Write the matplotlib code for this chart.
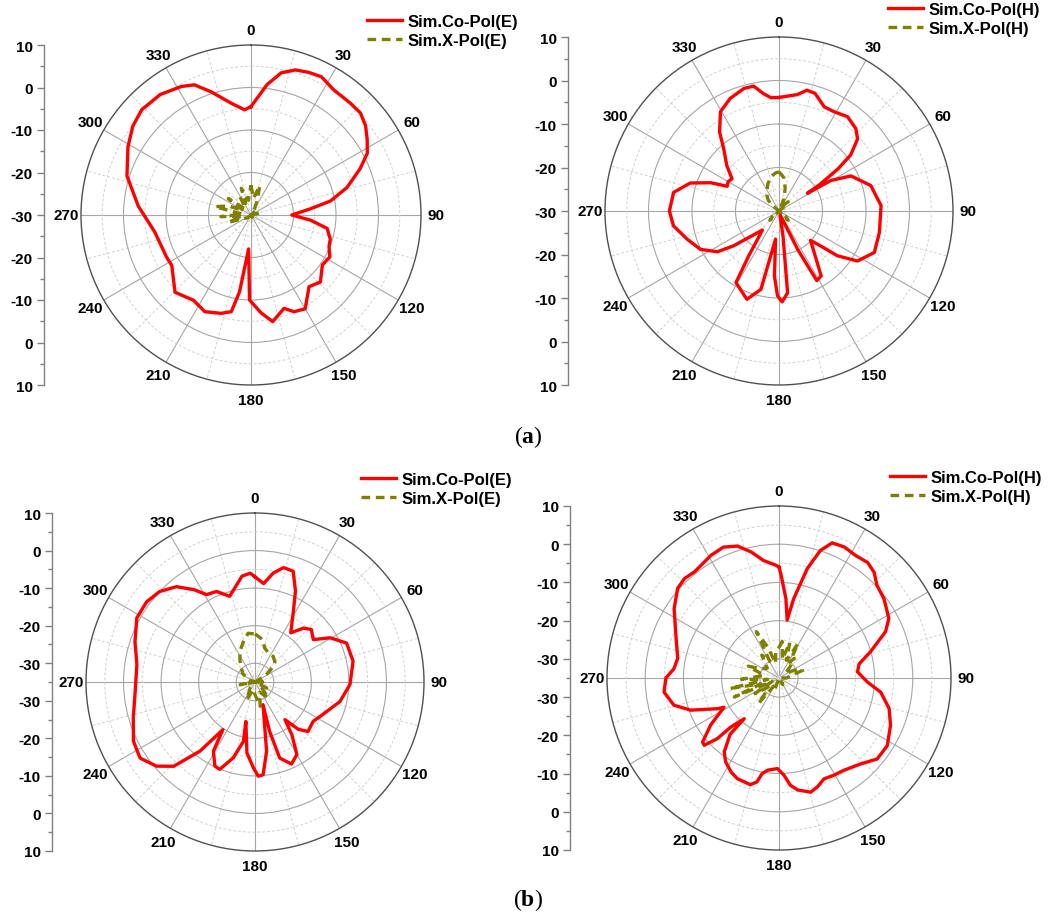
import numpy as np
import matplotlib
matplotlib.use("Agg")
import matplotlib.pyplot as plt

plt.rcParams['font.family'] = ['Liberation Sans', 'DejaVu Sans']
plt.rcParams['mathtext.fontset'] = 'custom'
plt.rcParams['mathtext.rm'] = 'Liberation Serif'
plt.rcParams['mathtext.bf'] = 'Liberation Serif:bold'

# ---------------- data (angle in degrees, gain in dB) ----------------
# (a) E-plane
a_e_co_ang = [0, 7, 12, 17, 22, 27, 33.5, 41.5, 47, 52, 57, 62, 67, 74, 80, 84, 90, 95, 100,
              107, 112, 118, 125, 134, 141, 150, 156, 160.5, 168.5, 174, 181, 184, 188.5,
              191.5, 197, 205.5, 214, 224.5, 237.5, 243.5, 260, 274.5, 287.5, 299, 307, 314,
              323, 331.5, 336.5, 342, 350, 356.5]
a_e_co_db = [-4.5, 0.9, 4.2, 5.7, 6.2, 6.5, 5.3, 5.2, 5.2, 4.2, 2.6, 1.0, -2.1, -6.5, -11.0,
             -15.9, -20.4, -15.9, -11.8, -10.5, -10.2, -9.0, -9.5, -7.3, -8.3, -4.5, -5.1,
             -6.7, -4.4, -6.8, -10.0, -22.0, -11.7, -6.8, -5.8, -4.8, -5.8, -4.5, -7.9, -7.8,
             -7.0, -3.4, 0.6, 3.1, 4.8, 5.7, 5.5, 4.4, 3.4, 0.5, -3.3, -5.2]
a_e_x_ang = [0, 8, 17, 25, 35, 50, 65, 77, 90, 110, 130, 150, 170, 190, 210, 230, 245, 252,
             260, 267, 275, 283, 292, 300, 306, 315, 322, 329, 335, 340, 350]
a_e_x_db = [-23.0, -26.0, -22.8, -27.0, -29.0, -28.5, -30.0, -28.0, -30.0, -29.0, -30.0,
            -29.5, -30.0, -29.0, -30.0, -29.0, -28.0, -24.3, -28.0, -22.9, -28.0, -21.3,
            -24.3, -28.0, -23.4, -28.0, -27.6, -25.0, -27.0, -23.3, -26.5]

# (a) H-plane
a_h_co_ang = [0, 9, 13, 17, 23.5, 29, 36, 43, 47.5, 52, 54.5, 57, 58, 59.5, 64, 74.5, 87, 102,
              113.5, 122.5, 127.5, 130, 133, 139.7, 147, 151.5, 154, 158, 166, 171, 174, 178,
              181, 184, 187, 193, 200, 211, 214, 221, 232.5, 236.5, 244, 253, 262, 270, 280,
              287.5, 292.5, 295.5, 300, 304.5, 311, 318.5, 323, 329.5, 336.5, 344, 348.5,
              352.5, 356]
a_h_co_db = [-3.9, -2.9, -1.5, -1.7, -3.9, -3.9, -3.2, -4.1, -5.5, -9.1, -13.4, -18.8, -22.3,
             -16.2, -11.6, -8.1, -6.5, -6.4, -6.1, -8.6, -13.1, -17.5, -20.1, -17.5, -12.2,
             -11.8, -20.0, -28.0, -29.0, -24.0, -11.1, -9.1, -10.5, -15.0, -23.5, -11.5, -8.4,
             -10.8, -17.5, -24.2, -16.9, -13.0, -9.9, -7.9, -5.5, -4.8, -5.4, -8.6, -13.0,
             -16.8, -16.5, -16.9, -14.1, -10.8, -7.3, -3.5, -1.8, -0.7, -0.7, -2.8, -3.9]
a_h_x_ang = [0, 8, 15, 22, 30, 40, 45, 50, 60, 90, 120, 130, 135, 140, 150, 180, 210, 220,
             225, 230, 240, 270, 300, 310, 315, 322, 330, 338, 348, 355]
a_h_x_db = [-21.0, -22.2, -24.5, -27.0, -29.5, -28.0, -27.0, -28.0, -30.0, -30.0, -30.0,
            -28.0, -27.0, -28.0, -30.0, -30.0, -30.0, -28.0, -27.0, -28.0, -30.0, -30.0,
            -30.0, -28.0, -26.5, -25.5, -24.5, -23.2, -21.8, -21.2]

# (b) E-plane
b_e_co_ang = [0, 5, 9.5, 14, 19, 24, 28.5, 36, 42, 47, 54, 59.5, 67, 78, 91.5, 103, 118, 124,
              133, 137.5, 141.5, 145, 150, 156, 162, 163.5, 160.5, 170.5, 175, 178, 181,
              186.5, 193, 191, 196, 202, 205.5, 211, 214, 218.5, 224, 229.5, 236.5, 244, 253.5,
              265.5, 278.5, 288.5, 298.5, 306.5, 313.5, 320.5, 326.5, 331, 337, 343.5, 349.5,
              353, 357.5]
b_e_co_db = [-7.0, -8.7, -5.6, -3.6, -3.8, -8.5, -13.6, -18.8, -15.7, -14.5, -15.8, -11.8,
             -8.5, -8.3, -9.7, -11.8, -15.4, -16.3, -15.7, -17.9, -22.2, -17.9, -12.7, -11.1,
             -13.7, -21.3, -28.6, -16.3, -10.2, -9.9, -12.1, -16.0, -24.2, -18.9, -14.0, -9.9,
             -10.2, -13.5, -19.7, -11.5, -3.8, -0.5, 1.7, 1.0, -1.2, -3.0, -3.2, -1.3, 0.8,
             0.9, 0.0, -2.1, -5.5, -8.4, -8.8, -11.2, -8.6, -6.6, -6.0]
b_e_x_ang = [0, 10, 16, 25, 35, 45, 50, 60, 75, 90, 105, 117, 128, 140, 155, 168, 180, 192,
             205, 220, 240, 260, 275, 290, 305, 313, 325, 334, 345, 352]
b_e_x_db = [-22.2, -23.5, -25.6, -26.5, -26.6, -27.5, -28.6, -32.0, -35.0, -33.0, -35.0,
            -31.5, -33.0, -29.5, -32.0, -28.4, -31.6, -33.0, -29.8, -33.0, -35.0, -31.0,
            -35.0, -33.0, -31.0, -30.2, -28.0, -25.9, -23.5, -21.9]

# (b) H-plane
b_h_co_ang = [0, 1, 5, 8, 10.5, 14.5, 18, 21.5, 26.5, 32, 37.5, 42, 46.5, 53, 61.5, 66.5, 74,
              80, 85.5, 92.5, 98, 105.5, 113, 122, 129.5, 136.5, 145, 150.5, 156, 160.5, 164.5,
              170.5, 174, 177, 181, 187, 190, 192, 195, 202.5, 207, 212.5, 216.5, 221, 220.5,
              224.5, 225.5, 228, 230, 235.5, 242, 243.5, 250, 255.5, 263, 270, 275, 281, 294,
              303.5, 311.5, 316.5, 321.5, 331, 337, 342.5, 347.5, 352.5, 358.5]
b_h_co_db = [-6.0, -7.7, -14.2, -19.7, -13.9, -5.4, 0.1, 3.0, 3.3, 2.8, 3.1, 2.2, 0.3, -0.6,
             -2.3, -4.6, -10.1, -13.7, -14.4, -11.9, -8.1, -5.1, -3.3, -1.6, -1.7, -4.0, -5.5,
             -5.8, -6.1, -4.8, -4.0, -5.3, -6.8, -9.5, -11.3, -10.7, -9.6, -7.2, -6.1, -6.5,
             -7.4, -9.0, -10.9, -15.5, -21.0, -17.0, -12.4, -8.7, -8.9, -13.3, -18.7, -17.0,
             -10.4, -6.6, -4.7, -5.4, -7.4, -8.0, -5.4, -2.1, 0.4, 0.9, 0.5, 1.7, 2.2, 1.2,
             -1.2, -4.0, -5.5]
b_h_x_ang = [0, 5, 10, 17, 23, 29, 34, 38, 45, 55, 63, 72, 80, 90, 120, 150, 180, 200, 210,
             219, 225, 230, 237, 243, 247, 252, 258, 263, 268, 280, 291, 298, 310, 323, 331,
             334, 340, 347, 353]
b_h_x_db = [-27.0, -25.4, -30.0, -25.3, -30.0, -24.7, -30.0, -28.5, -31.0, -33.0, -30.5,
            -28.5, -32.0, -33.0, -35.0, -33.0, -35.0, -32.0, -33.0, -26.4, -31.0, -31.3,
            -27.5, -33.0, -22.3, -30.0, -21.9, -32.0, -25.2, -31.0, -26.4, -29.9, -31.0,
            -27.5, -30.0, -21.5, -26.4, -31.0, -27.9]

r_max = 10
theta_ticks = list(range(0, 360, 30))

W, H = 1058, 920
fig = plt.figure(figsize=(W / 100, H / 100), dpi=100)
fig.patch.set_facecolor('white')

RED = '#ff0000'
OLIVE = '#808000'


def panel(cx, cy, R, axis_x, rmin, co_ang, co_db, x_ang, x_db, labels, leg_x, leg_y):
    ax = fig.add_axes([(cx - R) / W, (H - cy - R) / H, 2 * R / W, 2 * R / H],
                      projection='polar')
    ax.set_theta_zero_location('N')
    ax.set_theta_direction(-1)
    ax.set_ylim(rmin, r_max)

    def closed(a, d):
        a = np.deg2rad(np.append(a, a[0] + 360))
        d = np.clip(np.append(d, d[0]), rmin, None)
        return a, d

    ta, da = closed(co_ang, co_db)
    tb, db = closed(x_ang, x_db)
    l1, = ax.plot(ta, da, color=RED, lw=2.4, solid_joinstyle='round', zorder=5)
    l2, = ax.plot(tb, db, color=OLIVE, lw=2.4, ls=(0, (2.6, 1.7)), zorder=4)

    ax.set_xticks(np.deg2rad(theta_ticks))
    ax.set_xticklabels([str(t) for t in theta_ticks], fontweight='bold', fontsize=11)
    ax.set_xticks(np.deg2rad(np.arange(15, 360, 30)), minor=True)
    major_r = [v for v in range(-30, 10, 10) if v > rmin]
    minor_r = [v for v in range(-25, 10, 10) if v > rmin]
    ax.set_yticks(major_r)
    ax.set_yticklabels([])
    ax.set_yticks(minor_r, minor=True)
    ax.grid(which='major', color='#a6a6a6', ls='-', lw=0.8)
    ax.grid(which='minor', color='#d2d2d2', ls=(0, (3, 2)), lw=0.7)
    ax.tick_params(axis='x', which='major', pad=4, length=0)
    ax.tick_params(which='minor', length=0)
    ax.tick_params(axis='y', length=0)
    ax.spines['polar'].set_color('#505050')
    ax.spines['polar'].set_linewidth(1.0)

    # linear dB scale drawn at the left of the polar plot
    span = r_max - rmin
    la = fig.add_axes([axis_x / W, (H - cy - R) / H, 0.0005, 2 * R / H])
    la.set_ylim(-span, span)
    la.set_xlim(0, 1)
    for s in ['top', 'right', 'bottom']:
        la.spines[s].set_visible(False)
    la.spines['left'].set_color('#808080')
    la.spines['left'].set_linewidth(1.0)
    la.set_xticks([])
    vals = list(range(-30, 11, 10))
    pos, labs = [], []
    for v in vals:
        d = v - rmin
        if d == 0:
            pos.append(0.0)
            labs.append(str(v))
        else:
            pos += [d, -d]
            labs += [str(v), str(v)]
    la.set_yticks(pos)
    la.set_yticklabels(labs, fontweight='bold', fontsize=11)
    mins = []
    for v in np.arange(rmin, r_max + 0.1, 5):
        d = v - rmin
        if d % 10 != (-30 - rmin) % 10:
            mins += [d, -d] if d else [0]
    la.set_yticks(mins, minor=True)
    la.tick_params(axis='y', which='major', direction='out', length=5, width=1,
                   color='#808080', pad=3)
    la.tick_params(axis='y', which='minor', direction='out', length=3, width=1,
                   color='#808080')
    la.patch.set_visible(False)

    fig.legend([l1, l2], labels, loc='upper left',
               bbox_to_anchor=(leg_x / W, 1 - leg_y / H), bbox_transform=fig.transFigure,
               frameon=False, borderpad=0, borderaxespad=0, handlelength=2.1,
               handletextpad=0.35, labelspacing=0.25,
               prop={'weight': 'bold', 'size': 12, 'family': 'Liberation Sans'})
    return ax


panel(251, 216, 170, 44, -30, a_e_co_ang, a_e_co_db, a_e_x_ang, a_e_x_db,
      ['Sim.Co-Pol(E)', 'Sim.X-Pol(E)'], 367, 15)
panel(779, 212, 174, 568, -30, a_h_co_ang, a_h_co_db, a_h_x_ang, a_h_x_db,
      ['Sim.Co-Pol(H)', 'Sim.X-Pol(H)'], 888, 3)
panel(255, 683, 169, 52, -35, b_e_co_ang, b_e_co_db, b_e_x_ang, b_e_x_db,
      ['Sim.Co-Pol(E)', 'Sim.X-Pol(E)'], 361, 473)
panel(779, 679, 172, 570, -35, b_h_co_ang, b_h_co_db, b_h_x_ang, b_h_x_db,
      ['Sim.Co-Pol(H)', 'Sim.X-Pol(H)'], 890, 471)

fig.text(528 / W, 1 - 437 / H, r'($\mathbf{a}$)', ha='center', va='center',
         family='Liberation Serif', fontsize=17)
fig.text(528 / W, 1 - 900 / H, r'($\mathbf{b}$)', ha='center', va='center',
         family='Liberation Serif', fontsize=17)

fig.savefig('out.png', dpi=100, facecolor='white')
